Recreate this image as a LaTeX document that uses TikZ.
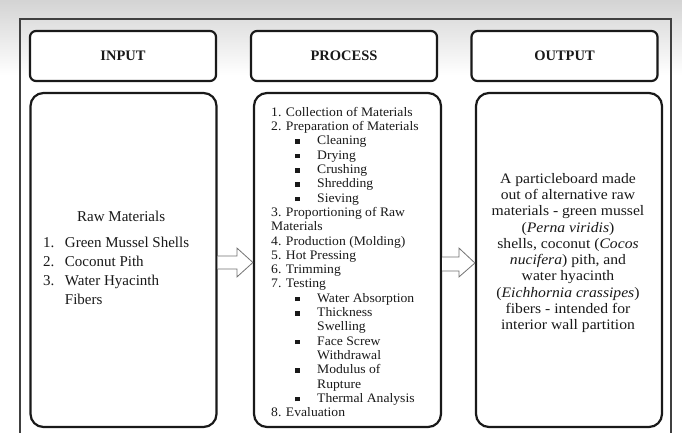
\documentclass[tikz,border=0pt]{standalone}
\usepackage{fontspec}
\setmainfont{Liberation Serif}
\newfontfamily\outfont{Liberation Serif}[FakeStretch=1.08]
\newfontfamily\procfont{Liberation Serif}[FakeStretch=1.05]
\usetikzlibrary{calc}
\newcommand\bl{\hspace*{24pt}\makebox[22pt][l]{\rule[1pt]{4.5pt}{4.5pt}}}
\newcommand\bc{\hspace*{46pt}}
\begin{document}
\begin{tikzpicture}[x=1pt,y=-1pt,
  hdr/.style={draw=black!90, line width=2.2pt, rounded corners=6pt, minimum width=186pt, minimum height=50pt, fill=white, text=black!90, font=\bfseries\fontsize{14.5}{16}\selectfont},
  bodybox/.style={draw=black!90, line width=2.2pt, rounded corners=13pt, minimum width=186pt, minimum height=334pt, fill=white},
  txt/.style={inner sep=0pt, text=black!90},
  blockarr/.style={draw=black!55, line width=0.8pt, fill=white, line join=miter}]
\useasboundingbox (0,0) rectangle (682,433);
\fill[white] (0,0) rectangle (682,433);
\shade[top color=black!17, bottom color=white] (0,0) rectangle (682,75);
\draw[black!75, line width=1.3pt] (20,433) -- (20,19) -- (671,19) -- (671,433);
% headers
\node[hdr] (inh) at (123,56) {INPUT};
\node[hdr] (prh) at (344,56) {PROCESS};
\node[hdr] (outh) at (564.5,56) {OUTPUT};
% bodies
\node[bodybox] (inb) at (123.5,260) {};
\node[bodybox, minimum width=187pt] (prb) at (347.5,260) {};
\node[bodybox] (outb) at (569,260) {};
% input text
\node[txt, anchor=west, font=\fontsize{15}{19}\selectfont] (intx) at (43,259) {%
\begin{tabular}{@{}l@{\hspace{10.5pt}}l@{}}
\multicolumn{2}{c}{\hspace{10pt}Raw Materials}\\[7pt]
1. & Green Mussel Shells\\
2. & Coconut Pith\\
3. & Water Hyacinth\\
   & Fibers
\end{tabular}};
% process text
\node[txt, anchor=west, align=left, font=\procfont\fontsize{13}{14.3}\selectfont] (prtx) at (271,262) {%
1. Collection of Materials\\
2. Preparation of Materials\\
\bl Cleaning\\
\bl Drying\\
\bl Crushing\\
\bl Shredding\\
\bl Sieving\\
3. Proportioning of Raw\\
Materials\\
4. Production (Molding)\\
5. Hot Pressing\\
6. Trimming\\
7. Testing\\
\bl Water Absorption\\
\bl Thickness\\
\bc Swelling\\
\bl Face Screw\\
\bc Withdrawal\\
\bl Modulus of\\
\bc Rupture\\
\bl Thermal Analysis\\
8. Evaluation};
% output text
\node[txt, align=center, font=\outfont\fontsize{14.5}{16.3}\selectfont] (outx) at (568,253) {%
A particleboard made\\
out of alternative raw\\
materials - green mussel\\
(\textit{Perna viridis})\\
shells, coconut (\textit{Cocos}\\
\textit{nucifera}) pith, and\\
water hyacinth\\
(\textit{Eichhornia crassipes})\\
fibers - intended for\\
interior wall partition};
% block arrows
\draw[blockarr] ($(inb.east)+(0,-4)$) -- ($(prb.west)+(-16,-4)$) -- ($(prb.west)+(-16,-12)$) -- ($(prb.west)+(0,2.5)$) -- ($(prb.west)+(-16,17)$) -- ($(prb.west)+(-16,9)$) -- ($(inb.east)+(0,9)$);
\draw[blockarr] ($(prb.east)+(0,-3)$) -- ($(outb.west)+(-16,-3)$) -- ($(outb.west)+(-16,-12)$) -- ($(outb.west)+(0,3)$) -- ($(outb.west)+(-16,17)$) -- ($(outb.west)+(-16,11)$) -- ($(prb.east)+(0,11)$);
\end{tikzpicture}
\end{document}
